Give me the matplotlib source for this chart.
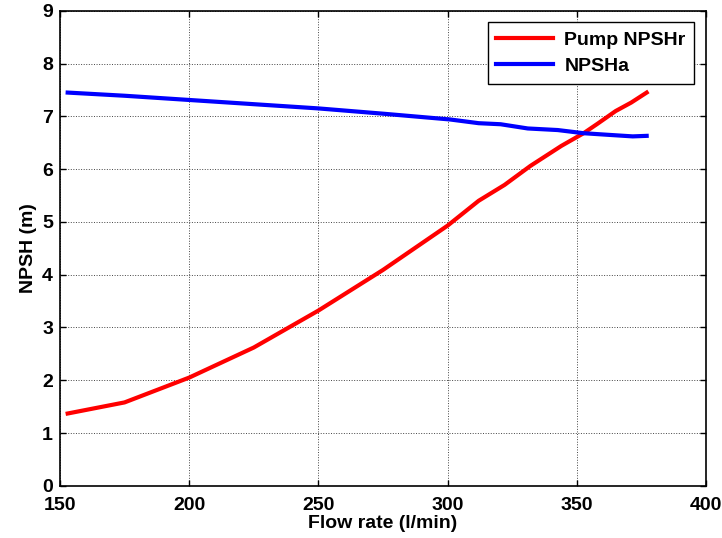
# Curvas NPSH requerida y disponible frente al caudal
import numpy as np
import matplotlib.pyplot as plt

plt.rcParams['font.family'] = ['Liberation Sans', 'DejaVu Sans']
plt.rcParams['font.weight'] = 'bold'

# Datos
caudal_r = [153, 175, 200, 225, 250, 275, 300, 312, 322, 332, 344, 352.6, 358, 365, 371, 377]
npshr = [1.37, 1.58, 2.05, 2.62, 3.32, 4.09, 4.93, 5.40, 5.70, 6.06, 6.44, 6.68, 6.86, 7.10, 7.26, 7.45]

caudal_a = [153, 175, 200, 225, 250, 275, 301, 312, 320.5, 331, 342.6, 352.6, 362, 371.6, 377]
npsha = [7.45, 7.39, 7.31, 7.23, 7.15, 7.05, 6.94, 6.87, 6.85, 6.77, 6.74, 6.68, 6.65, 6.62, 6.63]

xticks = [150, 200, 250, 300, 350, 400]
yticks = list(range(0, 10))

fig = plt.figure(figsize=(7.22, 5.38), dpi=100)
ax = fig.add_axes([0.083, 0.097, 0.895, 0.883])

ax.plot(caudal_r, npshr, color='#ff0000', linewidth=3, label='Pump NPSHr')
ax.plot(caudal_a, npsha, color='#0000ff', linewidth=3, label='NPSHa')

ax.set_xlim(150, 400)
ax.set_ylim(0, 9)
ax.set_xticks(xticks)
ax.set_yticks(yticks)
ax.tick_params(direction='in', top=True, right=True, labelsize=14, length=4, width=1)
ax.tick_params(axis='x', pad=8)
ax.tick_params(axis='y', pad=5)
for lbl in ax.get_xticklabels() + ax.get_yticklabels():
    lbl.set_fontweight('bold')
for s in ax.spines.values():
    s.set_linewidth(1.2)

ax.grid(True, color='#444444', linestyle=':', linewidth=0.7)
ax.set_xlabel('Flow rate (l/min)', fontsize=14, fontweight='bold', labelpad=1)
ax.set_ylabel('NPSH (m)', fontsize=14, fontweight='bold', labelpad=4)

leg = ax.legend(loc='upper right', fontsize=14, fancybox=False, framealpha=1,
                edgecolor='black', handlelength=2.9, borderaxespad=0.6,
                borderpad=0.45, labelspacing=0.45, handletextpad=0.6)
leg.get_frame().set_linewidth(1)

fig.savefig('out.png', dpi=100)
